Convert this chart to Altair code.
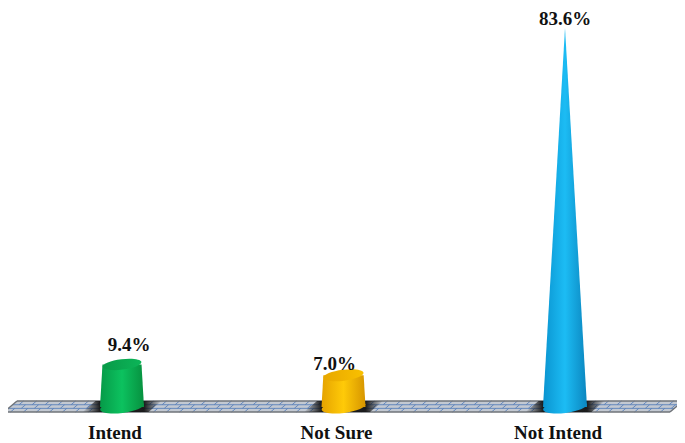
import altair as alt
import pandas as pd

labels = ["Intend", "Not Sure", "Not Intend"]
values = [9.4, 7.0, 83.6]
value_text = ["9.4%", "7.0%", "83.6%"]
positions = [0, 1, 2]
edge_colors = [("#069a48", "#0cc25f", "#07903f"), ("#e5a300", "#ffca08", "#d69500"), ("#0a94d0", "#1cbcf4", "#0b86bf")]
cap_colors = [("#089a48", "#0cb558"), ("#e8a800", "#f9c000"), ("#0c98d4", "#18b0ea")]

W, H = 669, 435
UNIT = 221.5          # px per category
Y_UNIT = 4.533        # px per percentage point
X_DOM = [-114 / UNIT, (W - 114) / UNIT]
Y_DOM = [-(H - 399) / Y_UNIT, 399 / Y_UNIT]
x_s = alt.Scale(domain=X_DOM, nice=False, zero=False)
y_s = alt.Scale(domain=Y_DOM, nice=False, zero=False)
X = alt.X("x:Q", scale=x_s, axis=None)
Y = alt.Y("y:Q", scale=y_s, axis=None)

BASE_HW = 22 / UNIT
ELLIPSE = "M-0.993,0.122 A1,0.27,-7,1,1,0.993,-0.122 A1,0.27,-7,1,1,-0.993,0.122 Z"

# floor, in data units
F_TOP, F_BOT = 6 / Y_UNIT, -5 / Y_UNIT
F_LEFT, F_RIGHT = -118 / UNIT + 0, 662 / UNIT - 114 / UNIT + 0
SHEAR = 13 / UNIT


def fx(u, y):
    return u + (y - F_BOT) / (F_TOP - F_BOT) * SHEAR


def grad(stops):
    return alt.Gradient(gradient="linear", x1=0, x2=1, y1=0, y2=0,
                        stops=[alt.GradientStop(color=c, offset=o) for o, c in stops])


floor = alt.Chart(pd.DataFrame([
    {"y": F_BOT, "x": fx(F_LEFT, F_BOT), "x2": fx(F_RIGHT, F_BOT)},
    {"y": F_TOP, "x": fx(F_LEFT, F_TOP), "x2": fx(F_RIGHT, F_TOP)},
])).mark_area(orient="horizontal", color="#c3c9d2").encode(y=Y, x=X, x2=alt.X2("x2:Q"))

segs = []
rows = [F_BOT + (F_TOP - F_BOT) * f for f in (0.0, 0.33, 0.66, 1.0)]
for r in (1, 2):
    segs.append({"x": fx(F_LEFT, rows[r]), "x2": fx(F_RIGHT, rows[r]), "y": rows[r], "y2": rows[r]})
step = 13 / UNIT
for r in range(3):
    u = F_LEFT + (step / 2 if r % 2 else 0) + step / 2
    while u < F_RIGHT:
        segs.append({"x": fx(u, rows[r]), "x2": fx(u, rows[r + 1]), "y": rows[r], "y2": rows[r + 1]})
        u += step
bricks = alt.Chart(pd.DataFrame(segs)).mark_rule(color="#5b82ba", strokeWidth=1.0, opacity=0.9).encode(
    x=X, x2=alt.X2("x2:Q"), y=Y, y2=alt.Y2("y2:Q"))
edges = alt.Chart(pd.DataFrame([
    {"x": fx(F_LEFT, F_BOT), "x2": fx(F_RIGHT, F_BOT), "y": F_BOT, "y2": F_BOT},
    {"x": fx(F_LEFT, F_TOP), "x2": fx(F_RIGHT, F_TOP), "y": F_TOP, "y2": F_TOP},
    {"x": fx(F_LEFT, F_BOT), "x2": fx(F_LEFT, F_TOP), "y": F_BOT, "y2": F_TOP},
    {"x": fx(F_RIGHT, F_BOT), "x2": fx(F_RIGHT, F_TOP), "y": F_BOT, "y2": F_TOP},
])).mark_rule(color="#6f7378", strokeWidth=1.4).encode(x=X, x2=alt.X2("x2:Q"), y=Y, y2=alt.Y2("y2:Q"))

layers = [floor, bricks, edges]


def half_width(v):
    return BASE_HW * (1 - v / values[-1])


for pos, v, cols, cap in zip(positions, values, edge_colors, cap_colors):
    sh = 33 / UNIT
    shadow = alt.Chart(pd.DataFrame([
        {"y": F_BOT, "x": pos - sh - SHEAR / 2, "x2": pos + sh - SHEAR / 2},
        {"y": F_TOP, "x": pos - sh + SHEAR / 2, "x2": pos + sh + SHEAR / 2},
    ])).mark_area(orient="horizontal", color=grad([
        (0, "rgba(20,20,20,0)"), (0.22, "rgba(20,20,20,0.95)"), (0.78, "rgba(20,20,20,0.95)"), (1, "rgba(20,20,20,0)")
    ])).encode(y=Y, x=X, x2=alt.X2("x2:Q"))
    g = grad([(0, cols[0]), (0.5, cols[1]), (1, cols[2])])
    hw = half_width(v)
    body = alt.Chart(pd.DataFrame([
        {"y": 0, "x": pos - BASE_HW, "x2": pos + BASE_HW},
        {"y": v, "x": pos - hw, "x2": pos + hw},
    ])).mark_area(orient="horizontal", color=g).encode(y=Y, x=X, x2=alt.X2("x2:Q"))
    base = alt.Chart(pd.DataFrame([{"x": pos, "y": 0, "s": (2 * 22) ** 2}])).mark_point(
        shape=ELLIPSE, filled=True, opacity=1, color=g
    ).encode(x=X, y=Y, size=alt.Size("s:Q", scale=None, legend=None))
    top = alt.Chart(pd.DataFrame([{"x": pos, "y": v, "s": (2 * hw * UNIT) ** 2}])).mark_point(
        shape=ELLIPSE, filled=True, opacity=1, color=grad([(0, cap[0]), (1, cap[1])])
    ).encode(x=X, y=Y, size=alt.Size("s:Q", scale=None, legend=None))
    layers += [shadow, base, body, top]

FONT = dict(font="Liberation Serif", fontWeight="bold", fontSize=19, color="#111111")
value_off = [(7, -13), (-9, -5), (0, -3)]
for pos, v, t, (dx, dy) in zip(positions, values, value_text, value_off):
    layers.append(alt.Chart(pd.DataFrame([{"x": pos, "y": v, "t": t}])).mark_text(
        dx=dx, dy=dy, baseline="alphabetic", **FONT).encode(x=X, y=Y, text="t:N"))
cat_df = pd.DataFrame({"x": positions, "t": labels})
layers.append(alt.Chart(cat_df).mark_text(dx=-7, baseline="alphabetic", **FONT).encode(
    x=X, y=alt.value(431), text="t:N"))

chart = alt.layer(*layers).properties(
    width=W, height=H, padding=0, autosize=alt.AutoSizeParams(type="none"),
    background="white",
).configure_view(stroke=None)

chart.save("out.html", embed_options={"renderer": "svg", "actions": False})
